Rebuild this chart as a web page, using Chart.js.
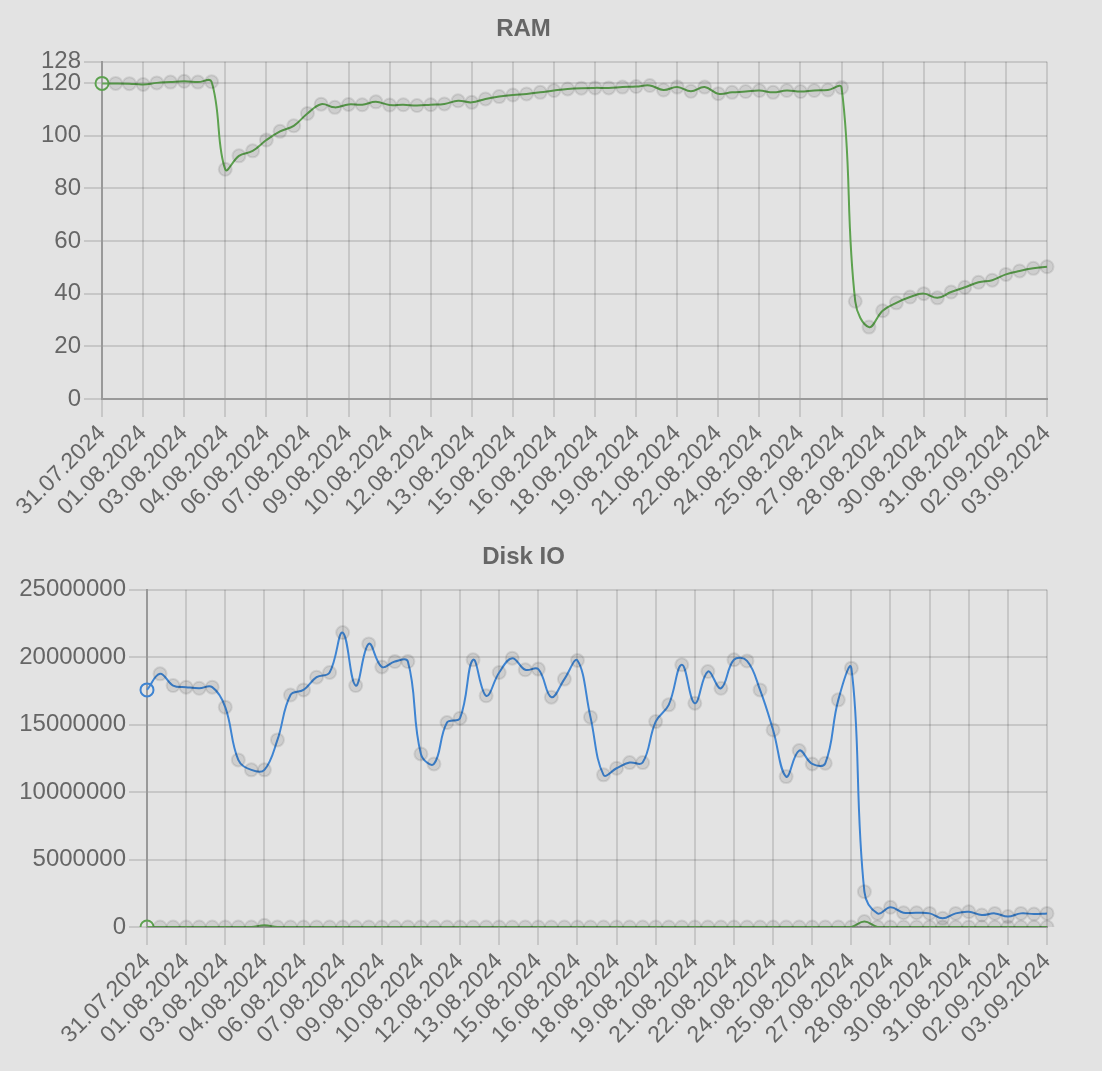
<!DOCTYPE html>
<html><head><meta charset="utf-8">
<script src="https://cdn.jsdelivr.net/npm/chart.js@4.4.1/dist/chart.umd.min.js"></script>
<style>
html,body{margin:0;padding:0;background:#e3e3e3;width:1102px;height:1071px;overflow:hidden;}
.wrap{position:absolute;left:0;width:1102px;height:528px;}
canvas{display:block;}
</style></head><body>
<div class="wrap" style="top:0"><canvas id="ram" width="1102" height="528"></canvas></div>
<div class="wrap" style="top:528px"><canvas id="disk" width="1102" height="528"></canvas></div>
<script>
const categories = [
 '31.07.2024','31.07.2024','01.08.2024','01.08.2024','02.08.2024','02.08.2024','03.08.2024','03.08.2024',
 '04.08.2024','04.08.2024','05.08.2024','05.08.2024','06.08.2024','06.08.2024','07.08.2024','07.08.2024',
 '08.08.2024','08.08.2024','09.08.2024','09.08.2024','10.08.2024','10.08.2024','11.08.2024','11.08.2024',
 '12.08.2024','12.08.2024','13.08.2024','13.08.2024','14.08.2024','14.08.2024','15.08.2024','15.08.2024',
 '16.08.2024','16.08.2024','17.08.2024','17.08.2024','18.08.2024','18.08.2024','19.08.2024','19.08.2024',
 '20.08.2024','20.08.2024','21.08.2024','21.08.2024','22.08.2024','22.08.2024','23.08.2024','23.08.2024',
 '24.08.2024','24.08.2024','25.08.2024','25.08.2024','26.08.2024','26.08.2024','27.08.2024','27.08.2024',
 '28.08.2024','28.08.2024','29.08.2024','29.08.2024','30.08.2024','30.08.2024','31.08.2024','31.08.2024',
 '01.09.2024','01.09.2024','02.09.2024','02.09.2024','03.09.2024','03.09.2024'
];
const ramValues = [
 119.8,119.8,119.7,119.4,120.0,120.3,120.6,120.3,120.4,87.2,
 92.3,94.2,98.3,101.6,103.7,108.4,111.9,110.7,111.8,111.7,
 112.8,111.6,111.7,111.4,111.7,112.0,113.2,112.6,113.9,114.8,
 115.4,115.8,116.4,117.1,117.7,118.0,118.1,118.1,118.4,118.6,
 119.0,117.3,118.4,116.8,118.4,115.9,116.4,116.7,117.1,116.4,
 117.1,116.7,117.1,117.3,118.2,37.1,27.3,33.5,36.5,38.7,
 40.0,38.4,40.6,42.4,44.3,45.1,47.3,48.6,49.6,50.2
];
const diskReadValues = [
 17580000,18770000,17900000,17780000,17700000,17780000,16300000,12390000,11650000,11650000,
 13870000,17200000,17580000,18520000,18870000,21830000,17900000,20990000,19280000,19680000,
 19680000,12830000,12090000,15160000,15480000,19810000,17140000,18870000,19930000,19070000,
 19120000,17040000,18380000,19760000,15560000,11280000,11770000,12190000,12190000,15230000,
 16470000,19440000,16590000,18940000,17700000,19810000,19730000,17580000,14610000,11150000,
 13080000,12090000,12140000,16840000,19190000,2620000,1010000,1460000,1060000,1060000,
 1010000,640000,1010000,1130000,890000,1010000,770000,1010000,960000,1010000
];
const diskWriteValues = [
 0,0,0,0,0,0,0,0,0,130000,
 0,0,0,0,0,0,0,0,0,0,
 0,0,0,0,0,0,0,0,0,0,
 0,0,0,0,0,0,0,0,0,0,
 0,0,0,0,0,0,0,0,0,0,
 0,0,0,0,0,400000,0,0,0,0,
 0,0,0,0,0,0,0,0,0,0
];
const ramTicks = [0,20,40,60,80,100,120,128];
const diskTicks = [0,5000000,10000000,15000000,20000000,25000000];

Chart.defaults.font.family = '"Liberation Sans", Arial, Helvetica, sans-serif';
Chart.defaults.color = '#666';

const GRID = 'rgba(0,0,0,0.12)';
const AXIS = '#999';
const GREEN = '#5da24f';
const BLUE = '#3e84d2';

function ds(data, color) {
  return {
    data: data,
    borderColor: color,
    borderWidth: 2,
    tension: 0.4,
    fill: false,
    pointRadius: 6.5,
    pointBorderWidth: 2,
    pointBackgroundColor: ctx => ctx.dataIndex === 0 ? 'rgba(255,255,255,0.05)' : 'rgba(0,0,0,0.09)',
    pointBorderColor: ctx => ctx.dataIndex === 0 ? color : 'rgba(0,0,0,0.09)'
  };
}

function opts(title, ticksArr, yWidth) {
  return {
    responsive: false,
    animation: false,
    devicePixelRatio: 1,
    events: [],
    layout: { padding: { left: 0, right: 55, top: 0, bottom: 0 } },
    plugins: {
      legend: { display: false },
      tooltip: { enabled: false },
      title: {
        display: true, text: title, color: '#666',
        font: { size: 24, weight: 'bold' },
        padding: { top: 15, bottom: 18 }
      }
    },
    scales: {
      x: {
        grid: { color: GRID, lineWidth: 2, tickLength: 18 },
        border: { color: AXIS, width: 2 },
        afterFit: s => { s.height = 129; },
        ticks: {
          autoSkip: false, minRotation: 45, maxRotation: 45, padding: 3,
          font: { size: 23 }, color: '#666',
          callback: function (v, i) { return i % 3 === 0 ? categories[i] : null; }
        }
      },
      y: {
        min: ticksArr[0], max: ticksArr[ticksArr.length - 1],
        grid: { color: GRID, lineWidth: 2, tickLength: 18 },
        border: { color: AXIS, width: 2 },
        afterFit: s => { s.width = yWidth; },
        afterBuildTicks: s => { s.ticks = ticksArr.map(v => ({ value: v })); },
        ticks: {
          padding: 3, font: { size: 24 }, color: '#666',
          callback: v => String(v)
        }
      }
    }
  };
}

new Chart(document.getElementById('ram'), {
  type: 'line',
  data: { labels: categories, datasets: [ds(ramValues, GREEN)] },
  options: opts('RAM', ramTicks, 102)
});
new Chart(document.getElementById('disk'), {
  type: 'line',
  data: { labels: categories, datasets: [ds(diskReadValues, BLUE), ds(diskWriteValues, GREEN)] },
  options: opts('Disk IO', diskTicks, 147)
});
</script>
</body></html>
